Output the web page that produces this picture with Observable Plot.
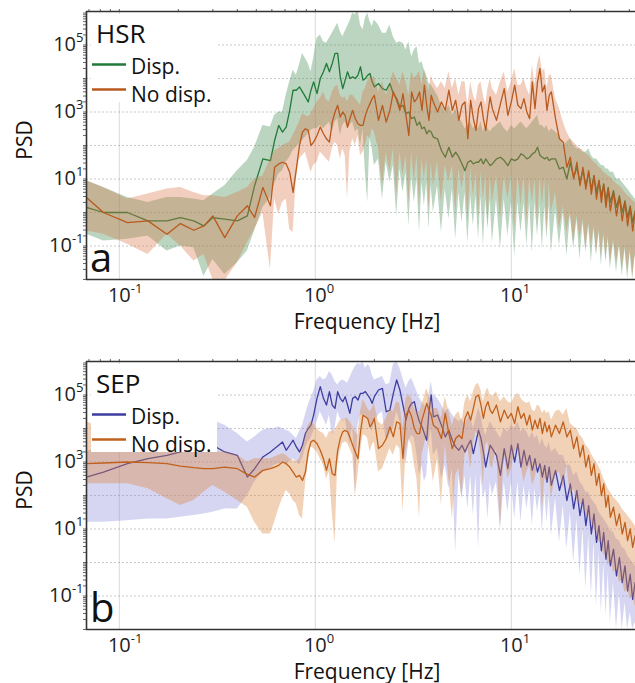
<!DOCTYPE html>
<html><head><meta charset="utf-8">
<script src="https://cdn.jsdelivr.net/npm/d3@7"></script>
<script src="https://cdn.jsdelivr.net/npm/@observablehq/plot@0.6"></script>
<style>
body{margin:0;background:#fff;}
#chart{width:635px;height:683px;overflow:hidden;position:relative;background:#fff}
#chart svg{display:block}
</style></head><body><div id="chart"></div>
<script>
// Frequency bins [Hz]
const freq = [
0.068,0.083,0.11,0.14,0.175,0.205,0.24,0.27,0.3,0.345,0.4,0.45,0.49,0.54,0.59,0.62,0.65,0.68,0.71,0.74,0.77,0.8,0.83,0.86,0.89,0.92,0.95,0.98,
1.02,1.06,1.1,1.14,1.18,1.22,1.26,1.3,1.34,1.38,1.42,1.46,1.5,1.55,1.6,1.65,1.7,1.75,1.8,1.85,1.9,1.95,2.0,
2.1,2.2,2.3,2.4,2.5,2.6,2.7,2.8,2.9,3.0,3.1,3.2,3.3,3.4,3.5,3.6,3.7,3.8,3.9,4.0,
4.2,4.4,4.6,4.8,5.0,5.2,5.4,5.6,5.8,6.0,6.2,6.4,6.6,6.8,7.0,7.2,7.4,7.6,7.8,8.0,
8.4,8.8,9.2,9.6,10,10.4,10.8,11.2,11.6,12,12.4,12.8,13.2,13.6,14,14.4,14.8,15.2,15.6,16,
16.8,17.6,18.4,19.2,20,20.8,21.6,22.4,23.2,24,24.8,25.6,26.4,27.2,28,28.8,29.6,30.4,31.2,32,
33.2,34.4,35.6,36.8,38,39.2,40.4,41.6,42.8,44];

// log10(PSD) — panel a (HSR)
const hsrDisp = [
0.15,0.0,0.0,-0.25,-0.25,-0.15,-0.25,-0.4,-0.15,-0.2,-0.25,-0.1,0.8,1.6,1.55,2.15,2.6,2.4,2.55,3.05,3.65,3.65,3.75,3.6,3.45,3.3,3.65,3.9,
3.55,4.0,4.2,4.45,4.2,4.45,4.75,4.75,4.05,3.7,3.95,4.2,4.0,4.05,4.0,4.1,4.35,3.95,4.0,4.1,4.15,3.9,3.75,
3.85,3.7,3.65,3.85,3.55,3.4,3.15,3.2,2.95,3.0,2.8,2.85,2.6,2.7,2.5,2.55,2.35,2.45,2.4,2.25,
2.2,1.85,1.65,1.95,1.65,1.8,1.65,1.45,1.25,1.5,1.55,1.45,1.5,1.5,1.6,1.45,1.6,1.5,1.4,1.45,
1.6,1.65,1.55,1.4,1.6,1.55,1.6,1.75,1.7,1.6,1.65,1.75,1.8,1.95,1.7,1.65,1.6,1.65,1.55,1.6,
1.6,1.3,1.35,1.0,1.5,1.05,1.35,0.9,1.25,0.8,1.2,0.7,1.1,0.6,0.95,0.5,0.85,0.35,0.75,0.3,
0.65,0.15,0.5,0.0,0.35,-0.15,0.2,-0.3,0.05,-0.45];
const hsrDispHi = [
0.95,0.75,0.45,0.3,0.45,0.45,0.4,0.35,0.55,0.8,1.25,1.55,1.95,2.6,2.55,2.9,3.0,3.0,3.5,3.9,4.25,4.1,4.4,4.75,4.6,4.45,4.2,4.6,
5.2,5.3,5.1,5.05,5.2,5.35,5.5,5.65,5.4,5.25,5.4,5.55,5.7,5.95,5.9,6.05,5.6,5.45,5.8,5.95,5.7,5.55,5.75,
5.6,5.35,5.35,5.6,5.25,5.05,5.1,5.05,4.85,5.1,4.65,4.85,4.95,4.45,4.5,4.25,4.1,3.85,3.8,3.7,
3.5,3.2,3.0,3.2,2.9,3.1,2.8,2.7,2.5,2.6,2.7,2.5,2.6,2.5,2.7,2.4,2.6,2.5,2.4,2.5,
2.6,2.7,2.5,2.4,2.6,2.5,2.6,2.7,2.6,2.5,2.6,2.7,2.8,2.9,2.6,2.6,2.5,2.6,2.4,2.5,
2.4,2.3,2.0,2.1,2.2,2.0,1.9,1.9,1.8,1.8,1.9,1.7,1.6,1.6,1.5,1.4,1.4,1.3,1.3,1.2,
1.2,1.0,1.0,0.9,0.8,0.7,0.6,0.5,0.4,0.4];
const hsrDispLo = [
-0.65,-0.85,-0.8,-0.7,-1.15,-1.0,-1.05,-1.9,-1.4,-1.85,-1.5,-1.15,-0.55,0.15,0.45,0.85,1.15,1.25,1.5,1.65,1.85,1.95,2.05,2.15,2.25,2.35,2.45,2.5,
2.5,2.6,2.5,2.6,2.7,2.4,2.7,2.8,2.3,2.6,2.7,2.5,2.6,2.7,2.4,2.5,2.0,2.5,1.2,0.3,2.2,1.9,1.4,
1.6,0.4,1.5,0.9,1.4,-0.1,1.3,0.6,1.2,-0.4,1.1,0.3,1.0,-0.6,0.9,0.2,0.9,-0.5,0.8,0.0,
0.8,-0.6,0.7,-0.2,0.7,-0.8,0.6,-0.3,0.6,-0.9,0.5,-0.4,0.5,-0.8,0.5,-1.0,0.4,-0.5,0.4,-0.9,
0.4,-1.1,0.4,-0.7,0.3,-1.3,0.3,-0.6,0.3,-1.0,0.3,-1.2,0.3,-0.7,0.2,-1.1,0.2,-0.8,0.2,-1.2,
0.1,-1.0,0.0,-1.3,-0.1,-1.1,-0.2,-1.4,-0.3,-1.2,-0.4,-1.5,-0.5,-1.3,-0.6,-1.6,-0.7,-1.5,-0.8,-1.7,
-0.9,-1.8,-1.0,-1.9,-1.1,-2.0,-1.2,-2.0,-1.3,-2.0];
const hsrNoDisp = [
0.45,0.0,-0.3,-0.25,-0.65,-0.33,-0.53,-0.4,-0.1,-0.75,-0.1,0.2,-0.15,0.75,0.2,1.35,1.45,1.5,1.45,1.2,0.6,1.3,2.0,2.4,2.5,2.45,2.0,2.1,
2.3,2.55,2.35,2.2,2.1,2.7,3.0,3.2,2.85,3.0,2.9,2.55,2.8,3.05,2.8,2.65,2.6,2.6,2.9,3.1,3.25,3.4,3.5,
2.75,3.2,2.7,3.05,3.6,3.35,3.05,3.55,2.9,2.3,3.6,3.3,3.4,3.6,3.05,3.8,3.2,2.75,3.5,3.3,
3.0,3.3,3.05,3.65,3.05,3.35,2.75,3.2,3.3,2.2,3.35,2.8,2.45,3.1,3.3,2.8,2.45,3.0,3.45,3.1,
2.75,3.25,3.7,2.9,3.3,3.8,3.2,3.1,3.4,3.0,2.8,3.9,3.1,3.9,4.3,3.6,3.8,3.05,3.5,3.6,
2.8,2.2,2.1,1.35,1.65,1.0,1.5,0.8,1.35,0.7,1.25,0.55,1.1,0.4,0.95,0.3,0.85,0.15,0.7,0.05,
0.6,-0.1,0.45,-0.25,0.3,-0.4,0.15,-0.55,0.0,-0.7];
const hsrNoDispHi = [
0.95,0.75,0.4,0.55,0.7,0.75,0.6,0.5,0.5,0.45,0.6,0.75,1.0,1.1,1.6,1.85,1.9,2.0,2.05,2.1,2.3,2.5,2.7,2.95,2.9,2.85,2.95,3.1,
3.3,3.4,3.6,3.35,3.3,3.6,3.75,3.8,3.5,3.4,3.45,3.3,3.5,3.5,3.4,3.3,3.2,3.6,3.7,3.9,4.05,4.0,4.05,
3.6,3.9,3.5,3.8,4.2,4.0,3.8,4.2,3.9,3.5,4.2,4.0,4.1,4.2,3.8,4.3,3.9,3.6,4.1,3.9,
3.7,3.9,3.7,4.2,3.7,4.0,3.5,3.9,3.9,3.2,3.9,3.5,3.3,3.8,3.9,3.5,3.2,3.7,4.0,3.7,
3.5,3.9,4.2,3.6,3.9,4.3,3.8,3.8,4.0,3.7,3.5,4.4,3.8,4.4,4.7,4.2,4.3,3.7,4.1,4.1,
3.4,3.1,2.7,2.4,2.2,2.1,2.0,1.9,1.85,1.75,1.7,1.6,1.5,1.45,1.35,1.3,1.2,1.15,1.1,1.05,
0.95,0.85,0.8,0.7,0.6,0.5,0.45,0.35,0.3,0.25];
const hsrNoDispLo = [
-0.55,-0.65,-0.95,-1.25,-0.65,-1.0,-1.45,-1.25,-2.0,-2.05,-1.5,-0.9,-0.5,0.0,-1.7,0.4,-0.05,0.3,0.4,-0.5,-0.6,1.0,1.6,1.7,1.8,1.5,1.2,1.4,
1.5,1.8,1.7,1.6,1.5,1.9,2.1,2.0,1.6,1.9,1.7,0.4,1.8,2.2,2.0,2.3,1.7,1.8,2.0,2.3,2.2,2.5,2.4,
1.9,0.8,1.8,1.2,1.9,0.5,1.8,1.1,1.7,0.3,1.8,0.9,1.7,0.2,1.6,1.0,1.6,0.1,1.5,0.8,
1.5,0.3,1.4,0.9,1.4,0.0,1.3,0.7,1.3,-0.3,1.3,0.5,1.2,-0.2,1.2,0.4,1.1,-0.4,1.1,0.3,
1.1,-0.2,1.1,0.4,1.1,-0.5,1.1,0.2,1.1,-0.3,1.0,0.3,1.0,-0.4,1.1,0.2,1.0,-0.6,0.9,0.0,
0.6,-0.5,0.2,-0.6,0.0,-0.9,-0.1,-0.8,-0.2,-1.1,-0.3,-1.0,-0.4,-1.2,-0.5,-1.3,-0.6,-1.4,-0.7,-1.5,
-0.8,-1.5,-0.9,-1.7,-1.0,-1.8,-1.1,-1.9,-1.2,-2.0];

// log10(PSD) — panel b (SEP)
const sepDisp = [
2.55,2.7,2.95,3.1,3.2,3.3,3.4,3.45,3.5,3.3,3.2,2.55,2.8,3.15,3.3,3.4,3.5,3.6,3.35,3.5,3.65,3.45,3.3,3.5,3.85,4.0,4.1,4.4,
4.9,5.25,4.9,4.7,5.1,4.7,4.6,5.1,4.9,4.8,4.95,4.7,4.45,4.9,4.95,4.85,5.05,5.05,5.1,5.0,4.9,4.75,4.95,
5.15,5.2,4.5,4.55,5.05,5.45,5.15,4.7,4.25,4.6,4.75,4.8,4.45,4.2,4.05,3.85,3.65,4.5,5.0,4.35,
4.4,4.1,3.75,3.95,3.65,3.45,3.35,3.5,3.3,3.5,3.65,3.25,3.6,3.95,3.7,3.3,2.85,3.2,3.5,3.4,
3.2,2.6,3.4,2.8,3.5,3.0,3.55,2.85,3.35,2.9,3.2,2.75,3.1,2.7,2.95,2.55,2.9,2.4,2.85,2.3,
2.75,2.15,2.6,1.85,2.35,1.6,2.15,1.4,1.9,1.1,1.7,0.85,1.45,0.6,1.1,0.35,0.9,0.1,0.65,-0.1,
0.4,-0.4,0.15,-0.6,-0.1,-0.85,-0.35,-1.1,-0.6,-1.25];
const sepDispHi = [
3.3,3.5,3.7,3.9,4.0,4.1,4.2,4.25,4.25,4.1,3.85,3.6,3.75,3.95,4.0,4.0,4.05,4.0,3.95,3.9,3.8,3.7,3.9,4.1,4.4,4.7,4.9,5.1,
5.45,5.55,5.45,5.5,5.7,5.6,5.4,5.3,5.4,5.45,5.4,5.35,5.5,5.7,5.85,5.95,5.9,6.0,5.8,5.9,5.85,5.6,5.45,
5.5,5.55,5.3,5.35,5.9,6.0,5.8,5.5,5.2,5.4,5.5,5.3,5.1,4.9,4.8,4.7,4.6,5.0,5.4,5.0,
4.9,4.7,4.5,4.6,4.4,4.3,4.2,4.3,4.1,4.3,4.4,4.0,4.3,4.6,4.4,4.0,3.8,4.0,4.2,4.1,
3.9,3.7,4.0,3.9,4.1,4.0,4.2,3.9,4.0,3.9,3.7,3.9,3.7,3.8,3.5,3.7,3.5,3.4,3.6,3.3,
3.4,3.2,3.2,2.9,2.9,2.6,2.7,2.4,2.3,2.1,2.1,1.9,1.8,1.7,1.5,1.4,1.3,1.2,1.1,0.95,
0.9,0.7,0.65,0.45,0.4,0.2,0.1,0.0,-0.1,-0.15];
const sepDispLo = [
1.2,1.2,1.25,1.3,1.3,1.35,1.4,1.45,1.5,1.6,1.6,2.0,2.4,2.7,2.8,2.9,2.95,3.0,2.9,3.0,3.1,3.0,2.9,3.1,3.4,3.6,3.7,3.9,
4.2,4.5,4.3,4.1,4.4,3.8,4.0,4.5,4.3,4.2,4.3,3.9,3.5,4.2,2.0,4.1,4.4,4.4,4.4,4.3,4.1,3.9,4.2,
4.4,4.5,3.6,3.8,4.0,4.5,4.2,3.6,2.9,3.6,3.8,3.7,3.2,2.6,2.9,2.4,2.6,3.6,4.0,3.2,
3.4,2.5,2.9,2.2,2.8,0.3,2.6,1.9,2.6,1.6,2.6,1.4,2.6,0.4,2.6,1.9,2.2,1.3,2.4,2.0,
2.4,1.0,2.4,1.5,2.4,1.3,2.4,1.2,2.3,1.6,2.2,1.1,2.2,1.5,2.1,0.9,2.1,1.2,2.0,0.8,
1.9,0.6,1.7,0.4,1.5,0.0,1.3,-0.4,1.0,-0.8,0.8,-1.0,0.6,-1.3,0.3,-1.5,0.0,-1.6,-0.3,-1.8,
-0.6,-2.0,-0.9,-2.0,-1.2,-2.0,-1.5,-2.0,-1.8,-2.0];
const sepNoDisp = [
2.95,2.97,3.0,2.98,2.95,2.88,2.83,2.8,2.8,2.85,2.8,2.63,2.55,2.75,2.8,2.85,2.9,3.0,2.95,2.85,2.7,2.55,2.6,2.45,2.7,3.3,3.6,3.65,
3.55,3.35,3.1,2.75,3.1,2.65,2.6,3.35,3.7,3.9,3.95,3.9,3.75,3.5,3.3,3.1,3.9,4.4,4.35,4.3,4.05,4.15,4.3,
3.4,3.5,3.7,4.05,3.75,4.2,4.15,3.1,4.4,4.55,4.35,4.0,3.85,3.85,4.25,4.5,4.75,4.55,4.4,4.1,
4.0,3.7,4.45,3.85,3.4,3.7,3.8,3.7,4.3,4.5,4.25,4.6,4.95,5.0,4.7,4.3,4.65,4.8,4.55,4.45,
4.7,4.2,4.55,4.3,4.45,4.15,4.65,4.3,4.45,4.1,4.4,3.95,4.25,4.0,4.3,3.85,4.2,3.9,4.1,3.75,
4.1,3.85,4.2,3.75,3.95,3.4,3.75,3.15,3.5,2.85,3.2,2.6,2.95,2.3,2.65,2.0,2.35,1.65,2.0,1.35,
1.65,1.1,1.45,0.85,1.2,0.65,1.0,0.45,0.8,0.3];
const sepNoDispHi = [
4.2,4.0,3.8,3.6,3.5,3.4,3.35,3.3,3.3,3.3,3.2,3.0,3.1,3.1,3.1,3.15,3.2,3.25,3.2,3.1,3.05,3.0,3.1,3.4,3.8,4.1,4.2,4.15,
4.0,3.9,3.85,3.7,3.9,3.9,3.95,4.1,4.25,4.25,4.3,4.3,4.2,4.1,3.9,3.8,4.5,4.85,4.75,4.6,4.5,4.6,4.75,
4.2,4.1,4.3,4.6,4.5,4.8,4.75,4.0,4.9,5.0,4.9,4.6,4.5,4.5,4.7,4.95,5.2,5.0,4.85,4.6,
4.6,4.3,4.95,4.5,4.1,4.4,4.5,4.2,4.8,5.0,4.8,5.1,5.3,5.35,5.15,4.8,5.1,5.2,5.0,4.95,
5.1,4.8,4.95,4.8,4.75,4.95,5.05,4.9,4.8,4.75,4.8,4.55,4.5,4.7,4.65,4.45,4.55,4.45,4.5,4.25,
4.5,4.55,4.4,4.6,4.15,4.05,4.0,3.8,3.7,3.5,3.4,3.25,3.1,3.0,2.85,2.7,2.5,2.35,2.2,2.1,
1.95,1.85,1.75,1.6,1.5,1.4,1.3,1.2,1.1,1.05];
const sepNoDispLo = [
2.35,2.35,2.35,2.2,1.9,1.7,1.85,2.1,2.3,2.1,1.85,1.65,1.2,0.85,0.85,1.2,1.6,1.9,2.15,2.05,1.85,1.75,1.4,1.3,2.3,3.0,3.45,3.4,
3.3,3.1,2.9,2.5,2.7,1.5,0.55,2.9,3.3,3.55,3.6,3.55,3.4,3.2,2.0,2.6,3.3,3.8,3.8,3.7,3.3,3.5,3.6,
2.7,2.8,3.1,3.4,3.2,3.5,3.4,1.5,3.3,3.7,3.5,2.9,2.5,1.3,3.2,3.5,3.8,3.4,3.0,2.4,
3.1,1.7,3.5,2.5,1.3,2.6,2.8,1.9,3.2,3.4,2.8,3.5,3.9,3.8,3.2,2.3,3.5,3.6,2.9,2.8,
3.4,1.0,3.3,2.5,2.8,3.3,3.4,2.9,2.4,2.7,2.9,2.3,2.5,2.9,2.8,1.5,2.5,2.4,2.6,1.9,
2.6,2.7,2.2,2.9,2.0,2.2,1.9,1.7,1.8,1.4,1.4,1.2,1.0,0.9,0.6,0.6,0.2,0.3,-0.1,0.1,
-0.3,-0.2,-0.6,-0.5,-0.9,-0.8,-1.1,-1.0,-1.3,-1.2];

// Axes / labels
const xDomain = [0.068, 43.0];
const yDomain = [1e-2, 1e6];
const xTickValues = [0.1, 1, 10];
const yTickValues = [1e-1, 1e1, 1e3, 1e5];
const yGridValues = [1e-1, 1, 1e1, 1e2, 1e3, 1e4, 1e5];
const seriesLabels = ["Disp.", "No disp."];
const panelTitles = ["HSR", "SEP"];
const panelLetters = ["a", "b"];
const xLabel = "Frequency [Hz]";
const yLabel = "PSD";

const FONT = '"Open Sans","DejaVu Sans",sans-serif';
const NS = "http://www.w3.org/2000/svg";

const yMinor = [];
for (let e = -2; e <= 5; e++) for (let k = 1; k <= 9; k++) yMinor.push(k * 10 ** e);
const xMinor = [];
for (let e = -2; e <= 1; e++) for (let k = 1; k <= 9; k++) { const v = k * 10 ** e; if (v >= xDomain[0] && v <= xDomain[1]) xMinor.push(v); }

const rowsOf = (m, lo, hi) => freq.map((f, i) => ({f, m: 10 ** m[i], lo: 10 ** lo[i], hi: 10 ** hi[i]}));
const expFmt = d => "10^" + Math.round(Math.log10(d));

function supify(t, center) {
  const m = /^10\^(-?\d+)$/.exec(t.textContent);
  if (!m) return;
  t.textContent = "10";
  const w = t.getComputedTextLength();
  const ts = document.createElementNS(NS, "tspan");
  ts.setAttribute("dy", "-0.7em");
  ts.setAttribute("font-size", "13px");
  ts.textContent = m[1];
  t.appendChild(ts);
  if (center) { t.setAttribute("text-anchor", "start"); t.setAttribute("dx", -w / 2); }
}

function makePanel(cfg) {
  const A = rowsOf(...cfg.s1.data), B = rowsOf(...cfg.s2.data);
  const plot = Plot.plot({
    width: 635, height: cfg.height,
    marginTop: 11, marginLeft: 86, marginRight: 0, marginBottom: cfg.height - 279,
    x: {type: "log", domain: xDomain},
    y: {type: "log", domain: yDomain},
    style: {fontFamily: FONT, fontSize: "20px", color: "#222", background: "#fff"},
    marks: [
      Plot.gridY({ticks: yGridValues, stroke: "#888", strokeOpacity: 0.45, strokeDasharray: "2,2"}),
      Plot.gridX({ticks: xTickValues, stroke: "#999", strokeOpacity: 0.35}),
      Plot.areaY(A, {x: "f", y1: "lo", y2: "hi", fill: cfg.s1.fill, fillOpacity: cfg.s1.op, clip: true}),
      Plot.lineY(A, {x: "f", y: "m", stroke: cfg.s1.line, strokeWidth: 1.3, clip: true}),
      Plot.areaY(B, {x: "f", y1: "lo", y2: "hi", fill: cfg.s2.fill, fillOpacity: cfg.s2.op, clip: true}),
      Plot.lineY(B, {x: "f", y: "m", stroke: cfg.s2.line, strokeWidth: 1.3, clip: true}),
      Plot.axisY({ticks: yMinor, tickSize: 3, tickFormat: () => "", label: null, stroke: "#666"}),
      Plot.axisY({ticks: yTickValues, tickSize: 0, tickPadding: 3, tickFormat: expFmt, label: null}),
      Plot.axisX({anchor: "top", ticks: xMinor, tickSize: 3, tickFormat: () => "", label: null, stroke: "#666"}),
      Plot.axisX({anchor: "bottom", ticks: xTickValues, tickSize: 0, tickPadding: 8, tickFormat: expFmt, label: null}),
      Plot.ruleY(yDomain, {stroke: "#333", strokeWidth: 1.6}),
      Plot.ruleX([xDomain[0]], {stroke: "#333", strokeWidth: 1.6})
    ]
  });
  document.getElementById("chart").appendChild(plot);
  plot.querySelectorAll('[aria-label="y-axis tick label"] text').forEach(t => supify(t, false));
  plot.querySelectorAll('[aria-label="x-axis tick label"] text').forEach(t => supify(t, true));

  const svg = d3.select(plot);
  const g = svg.append("g").attr("font-family", FONT).attr("fill", "#111").attr("text-anchor", "start");
  g.append("rect").attr("x", 91).attr("y", 14).attr("width", 126).attr("height", 88).attr("fill", "#fff");
  g.append("text").attr("x", 96).attr("y", 43).attr("font-size", 26).text(cfg.title);
  [[cfg.s1, 64.5, 74], [cfg.s2, 89.5, 101.5]].forEach(([s, ly, ty], i) => {
    g.append("line").attr("x1", 92).attr("x2", 126).attr("y1", ly).attr("y2", ly).attr("stroke", s.line).attr("stroke-width", 2.5);
    g.append("text").attr("x", 131).attr("y", ty).attr("font-size", 21).text(seriesLabels[i]);
  });
  g.append("text").attr("x", 90).attr("y", 272).attr("font-size", 40).text(cfg.letter);
  g.append("text").attr("transform", "translate(32,140) rotate(-90)").attr("text-anchor", "middle").attr("font-size", 21).text(yLabel);
  g.append("text").attr("x", 367).attr("y", cfg.labelY).attr("text-anchor", "middle").attr("font-size", 21).text(xLabel);
}

makePanel({
  title: panelTitles[0], letter: panelLetters[0], height: 350, labelY: 329,
  s1: {data: [hsrDisp, hsrDispLo, hsrDispHi], line: "#217a38", fill: "#438a50", op: 0.36},
  s2: {data: [hsrNoDisp, hsrNoDispLo, hsrNoDispHi], line: "#b85a1e", fill: "#d97649", op: 0.36}
});
makePanel({
  title: panelTitles[1], letter: panelLetters[1], height: 335, labelY: 328.5,
  s1: {data: [sepDisp, sepDispLo, sepDispHi], line: "#3c3ca0", fill: "#8282d9", op: 0.33},
  s2: {data: [sepNoDisp, sepNoDispLo, sepNoDispHi], line: "#c0601c", fill: "#de8a3e", op: 0.38}
});
</script></body></html>
